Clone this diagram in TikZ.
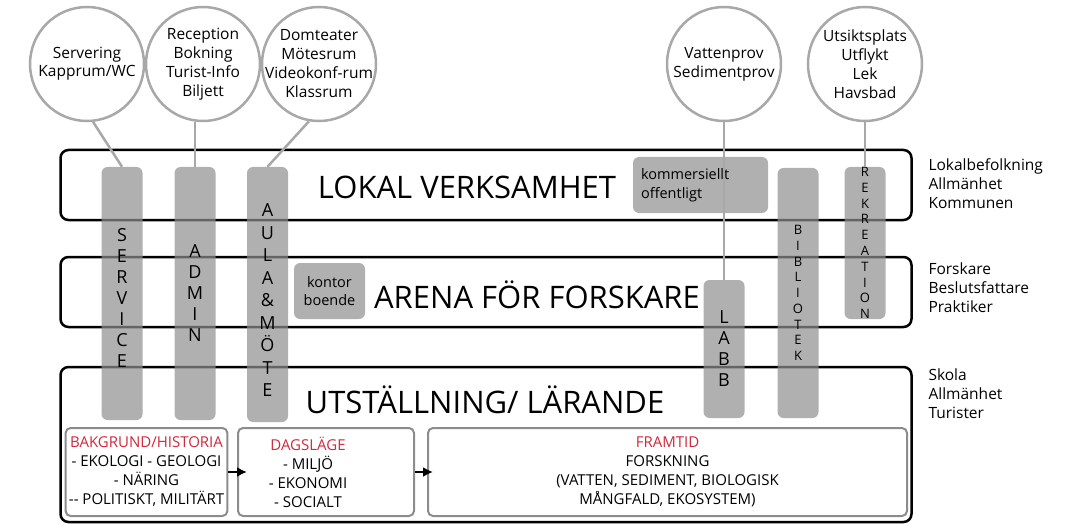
\documentclass[tikz,border=0pt]{standalone}
\usepackage{fontspec}
\setmainfont{Open Sans}
\usetikzlibrary{positioning,arrows.meta}
\definecolor{bargray}{HTML}{8F8F8F}
\definecolor{boxgray}{HTML}{B0B0B0}
\definecolor{ringgray}{HTML}{A8A8A8}
\definecolor{framgray}{HTML}{8C8C8C}
\definecolor{headred}{HTML}{D2283C}

\begin{document}
\begin{tikzpicture}[x=1pt, y=-1pt, node distance={116pt},
  main/.style = {circle, draw=ringgray, line width=2.5pt, fill=white, minimum size=114pt, inner sep=0pt},
  band/.style = {draw, line width=2.5pt, rounded corners=8pt, minimum width=851pt},
  bar/.style = {fill=bargray, fill opacity=0.7, text opacity=1, rounded corners=6pt, minimum width=41pt, inner sep=0pt, align=center, font=\fontsize{18}{21}\selectfont},
  tag/.style = {fill=boxgray, rounded corners=6pt, minimum height=56pt, font=\fontsize{14.5}{18.5}\selectfont},
  title/.style = {anchor=base, font=\fontsize{31}{36}\selectfont},
  who/.style = {anchor=west, align=left, font=\fontsize{15.5}{19}\selectfont},
  part/.style = {draw=framgray, fill=white, line width=2pt, rounded corners=5pt, minimum height=88pt, align=center, font=\fontsize{15}{19}\selectfont},
  link/.style = {draw=ringgray, line width=2.5pt},
  flow/.style = {-{Latex[length=10pt, width=10pt]}, line width=2pt}]
\useasboundingbox (0,0) rectangle (1071,524);
\node[band, minimum height=70pt] (lokal) at (486,185) {};
\node[band, minimum height=70pt] (arena) at (486,292) {};
\node[band, minimum height=155pt] (utst) at (486,444.5) {};
\node[title] (t1) at (467,198) {LOKAL VERKSAMHET};
\node[title] (t2) at (537,308) {ARENA FÖR FORSKARE};
\node[title] (t3) at (485,413) {UTSTÄLLNING/ LÄRANDE};
\node[tag, minimum width=135pt, text width=119pt, align=left] (kom) at (700.5,185) {kommersiellt\\offentligt};
\node[tag, minimum width=71pt, inner sep=0pt, align=center] (kon) at (329.5,291) {kontor\\boende};
\node[bar, minimum height=253pt] (service) at (122,293.5) {\rule{0pt}{22pt}S\\E\\R\\V\\I\\C\\E};
\node[bar, minimum height=253pt] (admin) at (195,293.5) {A\\D\\M\\I\\N};
\node[bar, minimum height=255pt, font=\fontsize{18}{22.5}\selectfont] (aula) at (267.5,294.5) {\rule{0pt}{24pt}A\\U\\L\\A\\\&\\M\\Ö\\T\\E};
\node[bar, minimum height=138pt] (labb) at (724,349) {L\\A\\B\\B};
\node[bar, minimum height=250pt, font=\fontsize{13}{15.75}\selectfont] (bibl) at (798,293) {B\\I\\B\\L\\I\\O\\T\\E\\K};
\node[bar, minimum height=152pt, font=\fontsize{13}{15.8}\selectfont] (rekr) at (865,243) {R\\E\\K\\R\\E\\A\\T\\I\\O\\N};
\node[main, label={[align=center, font=\fontsize{15.5}{18}\selectfont]center:Servering\\Kapprum/WC}] (1) at (87,64) {};
\node[main, label={[align=center, font=\fontsize{15.5}{19}\selectfont]center:Reception\\Bokning\\Turist-Info\\Biljett}] (2) [right of=1] {};
\node[main, label={[align=center, font=\fontsize{15.5}{19}\selectfont]center:Domteater\\Mötesrum\\Videokonf-rum\\Klassrum}] (3) [right of=2] {};
\node[main, label={[align=center, font=\fontsize{15.5}{19}\selectfont]center:Vattenprov\\Sedimentprov}] (4) at (724,64) {};
\node[main, label={[align=center, font=\fontsize{15.5}{19}\selectfont]center:Utsiktsplats\\Utflykt\\Lek\\Havsbad}] (5) [right of=4, xshift=25pt] {};
\draw[link] (1.-84) -- (service.north);
\draw[link] (admin.north) -- (admin.north |- 2.south);
\draw[link] (3.-100) -- (aula.north);
\draw[link] (4) -- (labb.north);
\draw[link] (5) -- (rekr.north);
\node[who] (g1) at (925,184) {Lokalbefolkning\\Allmänhet\\Kommunen};
\node[who] (g2) at (925,288) {Forskare\\Beslutsfattare\\Praktiker};
\node[who] (g3) at (925,394) {Skola\\Allmänhet\\Turister};
\node[part, minimum width=159pt] (p1) at (146.5,472) {\textcolor{headred}{BAKGRUND/HISTORIA}\\- EKOLOGI - GEOLOGI\\- NÄRING\\{-}- POLITISKT, MILITÄRT};
\node[part, minimum width=176pt, label={[align=center, xshift=-18pt, font=\fontsize{15}{19}\selectfont]center:\textcolor{headred}{DAGSLÄGE}\\- MILJÖ\\- EKONOMI\\- SOCIALT}] (p2) at (326,472) {};
\node[part, minimum width=479pt] (p3) at (667.5,472) {\textcolor{headred}{FRAMTID}\\FORSKNING\\(VATTEN, SEDIMENT, BIOLOGISK\\MÅNGFALD, EKOSYSTEM)};
\draw[flow, shorten >=-10pt] (p1) -- (p2);
\draw[flow, shorten >=-6pt] (p2) -- (p3);
\end{tikzpicture}
\end{document}
